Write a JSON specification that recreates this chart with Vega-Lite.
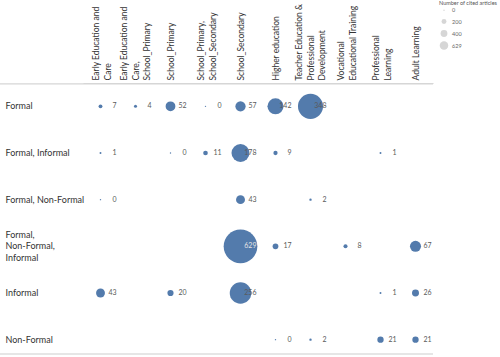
{
  "$schema": "https://vega.github.io/schema/vega-lite/v6.json",
  "width": 433,
  "height": 271,
  "autosize": "none",
  "padding": {"left": 0, "top": 83, "right": 67, "bottom": 3},
  "background": "white",
  "config": {"view": {"stroke": null}, "font": "Lato"},
  "data": {
    "values": [
      {"context": "Formal", "setting": "Early Education and Care", "count": 7},
      {"context": "Formal", "setting": "Early Education and Care, School_Primary", "count": 4},
      {"context": "Formal", "setting": "School_Primary", "count": 52},
      {"context": "Formal", "setting": "School_Primary, School_Secondary", "count": 0},
      {"context": "Formal", "setting": "School_Secondary", "count": 57},
      {"context": "Formal", "setting": "Higher education", "count": 142},
      {"context": "Formal", "setting": "Teacher Education & Professional Development", "count": 348},
      {"context": "Formal, Informal", "setting": "Early Education and Care", "count": 1},
      {"context": "Formal, Informal", "setting": "School_Primary", "count": 0},
      {"context": "Formal, Informal", "setting": "School_Primary, School_Secondary", "count": 11},
      {"context": "Formal, Informal", "setting": "School_Secondary", "count": 178},
      {"context": "Formal, Informal", "setting": "Higher education", "count": 9},
      {"context": "Formal, Informal", "setting": "Professional Learning", "count": 1},
      {"context": "Formal, Non-Formal", "setting": "Early Education and Care", "count": 0},
      {"context": "Formal, Non-Formal", "setting": "School_Secondary", "count": 43},
      {"context": "Formal, Non-Formal", "setting": "Teacher Education & Professional Development", "count": 2},
      {"context": "Formal, Non-Formal, Informal", "setting": "School_Secondary", "count": 629},
      {"context": "Formal, Non-Formal, Informal", "setting": "Higher education", "count": 17},
      {"context": "Formal, Non-Formal, Informal", "setting": "Vocational Educational Training", "count": 8},
      {"context": "Formal, Non-Formal, Informal", "setting": "Adult Learning", "count": 67},
      {"context": "Informal", "setting": "Early Education and Care", "count": 43},
      {"context": "Informal", "setting": "School_Primary", "count": 20},
      {"context": "Informal", "setting": "School_Secondary", "count": 256},
      {"context": "Informal", "setting": "Professional Learning", "count": 1},
      {"context": "Informal", "setting": "Adult Learning", "count": 26},
      {"context": "Non-Formal", "setting": "Higher education", "count": 0},
      {"context": "Non-Formal", "setting": "Teacher Education & Professional Development", "count": 2},
      {"context": "Non-Formal", "setting": "Professional Learning", "count": 21},
      {"context": "Non-Formal", "setting": "Adult Learning", "count": 21}
    ]
  },
  "encoding": {
    "y": {
      "field": "context", "type": "nominal",
      "scale": {"type": "band", "domain": ["Formal", "Formal, Informal", "Formal, Non-Formal", "Formal, Non-Formal, Informal", "Informal", "Non-Formal"], "range": [0, 280], "paddingInner": 0, "paddingOuter": 0},
      "axis": {
        "orient": "left", "title": null, "ticks": false, "domain": false, "grid": false,
        "labelAlign": "left", "labelBaseline": "middle", "labelPadding": -5,
        "labelFontSize": 9, "labelColor": "#333333", "labelLineHeight": 11.5,
        "labelOffset": {"condition": {"test": "datum.value == 'Formal, Non-Formal, Informal'", "value": -11.5}, "value": 0},
        "labelExpr": "datum.value == 'Formal, Non-Formal, Informal' ? ['Formal,','Non-Formal,','Informal'] : datum.value"
      }
    }
  },
  "layer": [
    {
      "data": {"values": [{"context": "Non-Formal"}]},
      "mark": {"type": "rule", "color": "#e6e6e6", "strokeWidth": 2},
      "encoding": {"y": {"field": "context", "type": "nominal", "bandPosition": 0.808}}
    },
    {
      "transform": [{"filter": "datum.context == 'Formal' && datum.setting == 'Early Education and Care'"}],
      "mark": {"type": "rule", "color": "#d6d6d6", "strokeWidth": 1.2},
      "encoding": {"y": {"field": "context", "type": "nominal", "bandPosition": 0.02}}
    },
    {
      "mark": {"type": "circle", "color": "#4a74a8", "opacity": 0.95},
      "encoding": {
        "x": {
          "field": "setting", "type": "nominal",
          "scale": {"type": "band", "domain": ["Early Education and Care", "Early Education and Care, School_Primary", "School_Primary", "School_Primary, School_Secondary", "School_Secondary", "Higher education", "Teacher Education & Professional Development", "Vocational Educational Training", "Professional Learning", "Adult Learning"], "range": [83, 433], "paddingInner": 0, "paddingOuter": 0},
          "axis": {
            "orient": "top", "title": null, "ticks": false, "grid": false,
            "domain": true, "domainColor": "#d6d6d6", "domainWidth": 1.2,
            "labelAngle": 270, "labelAlign": "left", "labelBaseline": "middle",
            "labelPadding": 3, "labelFontSize": 8.5, "labelColor": "#333333",
            "labelLineHeight": 11.5, "labelLimit": 200,
            "labelOffset": {"condition": [
              {"test": "datum.value == 'Early Education and Care, School_Primary' || datum.value == 'Teacher Education & Professional Development'", "value": -11.5},
              {"test": "datum.value == 'Early Education and Care' || datum.value == 'School_Primary, School_Secondary' || datum.value == 'Vocational Educational Training' || datum.value == 'Professional Learning'", "value": -4.5}
            ], "value": 0},
            "labelExpr": "datum.value == 'Early Education and Care' ? ['Early Education and','Care'] : datum.value == 'Early Education and Care, School_Primary' ? ['Early Education and','Care,','School_Primary'] : datum.value == 'School_Primary, School_Secondary' ? ['School_Primary,','School_Secondary'] : datum.value == 'Teacher Education & Professional Development' ? ['Teacher Education &','Professional','Development'] : datum.value == 'Vocational Educational Training' ? ['Vocational','Educational Training'] : datum.value == 'Professional Learning' ? ['Professional','Learning'] : datum.value"
          }
        },
        "size": {
          "field": "count", "type": "quantitative",
          "scale": {"type": "linear", "domain": [0, 629], "range": [2, 1135]},
          "legend": null
        }
      }
    },
    {
      "mark": {"type": "text", "align": "right", "baseline": "middle", "dx": 16, "fontSize": 7},
      "encoding": {
        "x": {"field": "setting", "type": "nominal"},
        "text": {"field": "count", "type": "quantitative"},
        "color": {"condition": {"test": "datum.count > 600", "value": "#e4e4e4"}, "value": "#5a5a5a"}
      }
    },
    {
      "mark": {"type": "circle", "opacity": 0, "fill": "#d6d6d6", "stroke": "#a8a8a8", "strokeWidth": 0.8},
      "encoding": {
        "x": {"field": "setting", "type": "nominal"},
        "size": {
          "field": "count", "type": "quantitative",
          "scale": {"type": "linear", "domain": [0, 629], "range": [2, 72]},
          "legend": {
            "orient": "none", "legendX": 439, "legendY": -82,
            "title": "Number of cited articles", "titleFontSize": 5.5, "titleFontWeight": "normal",
            "titleColor": "#555555", "titlePadding": 1, "labelFontSize": 5.5, "labelColor": "#666666",
            "values": [0, 200, 400, 629], "labelOffset": 3, "rowPadding": -2.5, "gridAlign": "all",
            "symbolFillColor": "#d6d6d6", "symbolStrokeColor": "#a8a8a8", "symbolStrokeWidth": 0.8, "symbolOpacity": 1
          }
        }
      }
    }
  ],
  "resolve": {"scale": {"size": "independent"}}
}
